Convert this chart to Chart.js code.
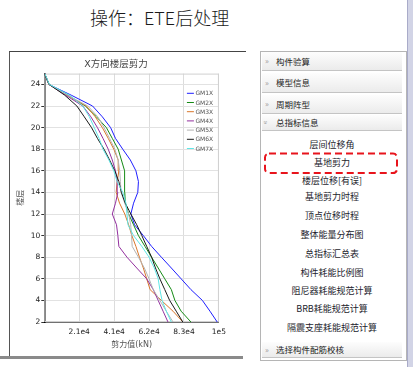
<!DOCTYPE html>
<html>
<head>
<meta charset="utf-8">
<script src="https://cdn.jsdelivr.net/npm/chart.js@4"></script>
<style>
  html, body { margin:0; padding:0; background:#fff; width:413px; height:367px; overflow:hidden; }
  body { position:relative; font-family:"Noto Sans CJK SC", "DejaVu Sans", sans-serif; }
  .abs { position:absolute; }
  #pageTitle { left:90px; top:5px; font-size:18px; line-height:24px; color:#1a1a1a; font-weight:300; white-space:nowrap; }
  #leftFrame { left:9px; top:51px; width:236px; height:305px; border-left:1px solid #555; border-top:1px solid #444; }
  #leftBottom { left:0; top:356px; width:243px; height:3px; background:#8a8a8a; }
  #chartCanvas { position:absolute; left:10px; top:52px; }
  #panel { left:260px; top:51px; width:145px; height:308px; border:1px solid #b5b5b5; background:#fff; }
  .bar { position:absolute; left:1px; width:140px; background:linear-gradient(#fdfdfd,#ebebeb); border-bottom:1px solid #c4c4c4; font-size:8.5px; color:#222; white-space:nowrap; }
  .bar .chev { position:absolute; left:3px; color:#9a9a9a; font-size:8px; }
  .bar .txt { position:absolute; left:14px; }
  .item { position:absolute; left:0; width:142px; text-align:center; font-size:9px; line-height:12px; color:#1c1c2c; white-space:nowrap; }
  #stripe { left:407px; top:0; width:6px; height:367px; background:#d2d4e6; border-left:1px solid #a9abc9; }
</style>
</head>
<body>
<div id="pageTitle" class="abs">操作：ETE后处理</div>
<div id="leftFrame" class="abs"></div>
<div id="leftBottom" class="abs"></div>
<canvas id="chartCanvas" width="222" height="303"></canvas>

<div id="panel" class="abs">
  <div class="bar" style="top:0;height:18px;line-height:18px;"><span class="chev">»</span><span class="txt">构件验算</span></div>
  <div class="bar" style="top:21px;height:19px;line-height:19px;"><span class="chev">»</span><span class="txt">模型信息</span></div>
  <div class="bar" style="top:43px;height:18px;line-height:18px;"><span class="chev">»</span><span class="txt">周期阵型</span></div>
  <div class="bar" style="top:63px;height:15px;line-height:15px;"><span class="chev" style="transform:rotate(90deg);display:inline-block;">»</span><span class="txt">总指标信息</span></div>
  <div class="item" style="top:87px;">层间位移角</div>
  <div class="item" style="top:105px;">基地剪力</div>
  <div class="item" style="top:123px;">楼层位移[有误]</div>
  <div class="item" style="top:139px;">基地剪力时程</div>
  <div class="item" style="top:158px;">顶点位移时程</div>
  <div class="item" style="top:177px;">整体能量分布图</div>
  <div class="item" style="top:196px;">总指标汇总表</div>
  <div class="item" style="top:215px;">构件耗能比例图</div>
  <div class="item" style="top:233px;">阻尼器耗能规范计算</div>
  <div class="item" style="top:251px;">BRB耗能规范计算</div>
  <div class="item" style="top:270px;">隔震支座耗能规范计算</div>
  <div class="bar" style="top:290px;height:15px;line-height:15px;"><span class="chev">»</span><span class="txt">选择构件配筋校核</span></div>
</div>
<svg class="abs" style="left:0;top:0;" width="413" height="367">
  <rect x="265" y="153.5" width="132" height="19.5" rx="4" ry="4" fill="none" stroke="#e8141c" stroke-width="2" stroke-dasharray="7 4"/>
</svg>
<div id="stripe" class="abs"></div>

<script>
// ---- data ----
const floors = [2,3,4,5,6,7,8,9,10,11,12,13,14,15,16,17,18,19,20,21,22,23,24,25];
const seriesNames = ['GM1X','GM2X','GM3X','GM4X','GM5X','GM6X','GM7X'];
const seriesColors = ['#1f1fff','#158a15','#d9772b','#93309f','#b4b4b4','#1a1a1a','#5fe6e6'];
const GM1X = [102500,98200,93700,86900,81100,75300,69400,63600,58700,53500,51300,52900,55400,55800,54300,51000,46500,42200,39300,34400,28600,16000,2700,300];
const GM2X = [86900,81100,77400,75300,71400,67500,63600,59700,55800,52900,50000,48000,47700,47700,47500,45700,43800,40300,36800,30900,24300,14000,2700,300];
const GM3X = [82100,76300,69400,62700,60700,58700,56400,54300,51900,50000,47700,44600,42600,43200,44200,43800,41200,37900,34400,30200,24900,13400,2700,300];
const GM4X = [73300,70400,67500,64600,60700,54800,49000,44200,43600,42800,40300,42200,43600,43200,42200,40300,37900,34800,31500,27600,22800,12700,2700,300];
const GM5X = [76300,72300,68500,64600,62100,59300,55800,52100,51700,51200,50000,47700,45500,45100,44700,43800,41800,38700,35400,31700,25800,13700,2700,300];
const GM6X = [82100,78200,74300,71400,68500,65900,63600,60700,57800,54800,51300,48000,45700,44200,41800,38700,35400,31500,28000,23700,19300,12100,2900,0];
const GM7X = [75300,72300,69800,68500,67500,65200,62100,57800,52900,49600,49000,48400,46500,43200,41200,38300,34800,32500,29600,26700,22800,15000,3000,300];
const seriesValues = [GM1X,GM2X,GM3X,GM4X,GM5X,GM6X,GM7X];
const xTickValues = [20700,41400,62100,82800,103500];
const xTickLabels = ['2.1e4','4.1e4','6.2e4','8.3e4','1e5'];
const yTickValues = [2,4,6,8,10,12,14,16,18,20,22,24];
const chartTitle = 'X方向楼层剪力';
const xTitle = '剪力值(kN)';
const yTitle = '楼层';
const xMin = 0, xMax = 103500, yMin = 2, yMax = 25;

// ---- chart ----
Chart.defaults.font.family = "'DejaVu Sans', 'Noto Sans CJK SC', sans-serif";

const datasets = seriesNames.map((name, i) => ({
  label: name,
  data: floors.map((f, k) => ({ x: seriesValues[i][k], y: f })),
  borderColor: seriesColors[i],
  backgroundColor: seriesColors[i],
  showLine: true,
  pointRadius: 0,
  borderWidth: 1,
  order: seriesNames.length - i
}));

const innerLegend = {
  id: 'innerLegend',
  afterDraw(chart) {
    const ctx = chart.ctx, a = chart.chartArea;
    ctx.save();
    ctx.font = "6px 'DejaVu Sans', sans-serif";
    ctx.textBaseline = 'middle';
    chart.data.datasets.forEach((ds, i) => {
      const y = a.top + 19.7 + i * 9.2;
      ctx.strokeStyle = ds.borderColor;
      ctx.lineWidth = 1;
      ctx.beginPath();
      ctx.moveTo(a.right - 32, y);
      ctx.lineTo(a.right - 25, y);
      ctx.stroke();
      ctx.fillStyle = '#555';
      ctx.fillText(ds.label, a.right - 23.5, y + 0.5);
    });
    ctx.restore();
  }
};

const areaFrame = {
  id: 'areaFrame',
  beforeDatasetsDraw(chart) {
    const ctx = chart.ctx, a = chart.chartArea;
    ctx.save();
    ctx.strokeStyle = '#d0d0d0';
    ctx.lineWidth = 1;
    ctx.strokeRect(a.left + 0.5, a.top + 0.5, a.right - a.left - 1, a.bottom - a.top - 1);
    ctx.restore();
  }
};

new Chart(document.getElementById('chartCanvas'), {
  type: 'scatter',
  data: { datasets },
  options: {
    responsive: false,
    animation: false,
    layout: { padding: { left: 0, right: 10, top: 0, bottom: 0 } },
    plugins: {
      legend: { display: false },
      tooltip: { enabled: false },
      title: {
        display: true,
        text: chartTitle,
        color: '#444',
        font: { size: 9.5, weight: 'normal' },
        padding: { top: 6.4, bottom: 3.8 }
      }
    },
    scales: {
      x: {
        type: 'linear',
        min: xMin, max: xMax,
        afterBuildTicks(scale) { scale.ticks = xTickValues.map(v => ({ value: v })); },
        afterFit(scale) { scale.height = 33; },
        ticks: {
          color: '#222',
          font: { size: 7.5 },
          padding: 6,
          maxRotation: 0,
          callback: (v, idx) => xTickLabels[idx]
        },
        grid: { color: '#dcdcdc', drawTicks: false },
        border: { color: '#000', width: 1.6 },
        title: { display: true, text: xTitle, color: '#555', font: { size: 8 }, padding: { top: 2, bottom: 5.5 } }
      },
      y: {
        type: 'linear',
        min: yMin, max: yMax,
        afterBuildTicks(scale) { scale.ticks = yTickValues.map(v => ({ value: v })); },
        afterFit(scale) { scale.width = 34.3; },
        ticks: { color: '#222', font: { size: 7.5 }, padding: 1 },
        grid: { color: '#e2e2e2', tickLength: 3, tickColor: '#333' },
        border: { color: '#000', width: 1.6 },
        title: { display: true, text: yTitle, color: '#555', font: { size: 8 }, padding: { top: 6, bottom: 0 } }
      }
    }
  },
  plugins: [areaFrame, innerLegend]
});
</script>
</body>
</html>
